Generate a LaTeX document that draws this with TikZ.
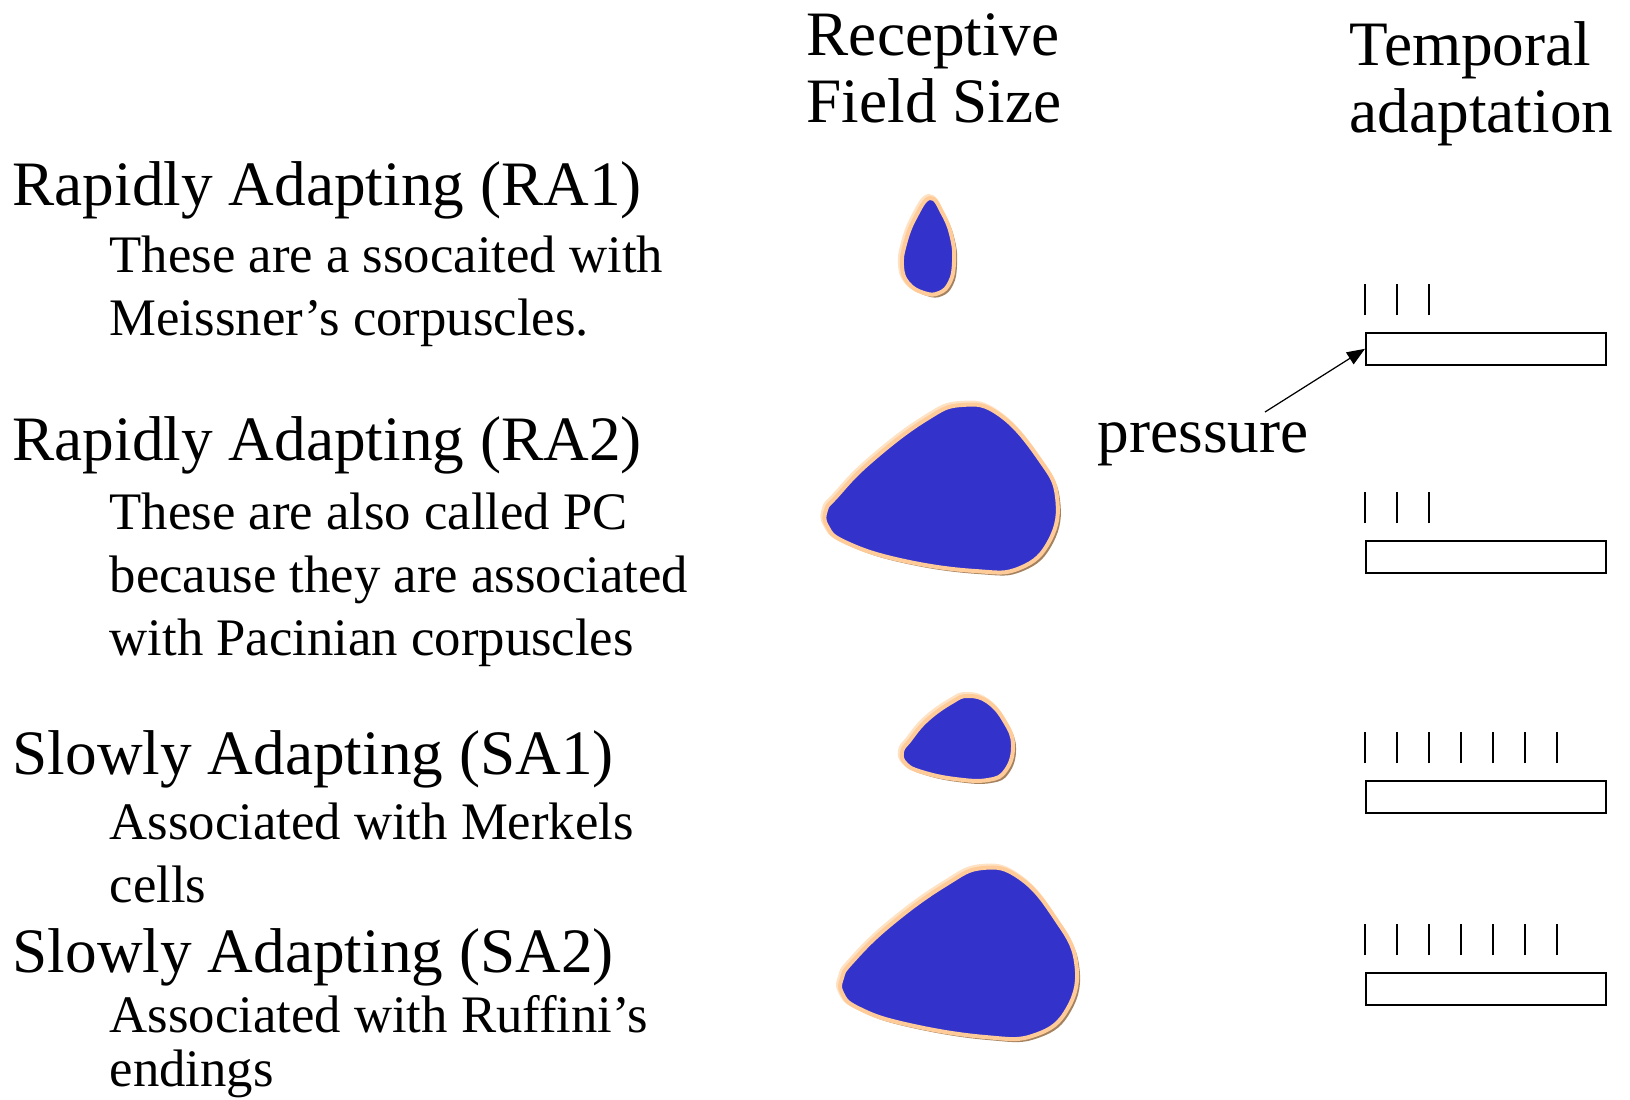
\documentclass[tikz,border=0pt]{standalone}
\usepackage{fontspec}
\setmainfont{Liberation Serif}
\usepackage{tikz}
\usetikzlibrary{arrows.meta,positioning,calc}
\definecolor{fieldblue}{RGB}{51,51,204}
\definecolor{fieldrim}{RGB}{255,204,153}
\definecolor{fieldglow}{RGB}{255,226,196}
\definecolor{fieldshade}{RGB}{165,130,95}
% receptive field blob: shadow, glow, body
\newcommand{\fieldblob}[1]{%
  \fill[fieldshade, shift={(3,3)}] plot[smooth cycle, tension=0.75] coordinates {#1};
  \draw[fieldglow, line width=0.5mm, shift={(-1.5,-1.5)}] plot[smooth cycle, tension=0.75] coordinates {#1};
  \draw[blob] plot[smooth cycle, tension=0.75] coordinates {#1};
}

\begin{document}
\begin{tikzpicture}[
      x=0.1mm, y=-0.1mm,
      head/.style={anchor=base west, inner sep=0pt, align=left, font=\fontsize{18}{19.3}\selectfont},
      desc/.style={anchor=base west, inner sep=0pt, align=left, font=\fontsize{15}{17.9}\selectfont},
      blob/.style={fill=fieldblue, draw=fieldrim, line width=0.4mm},
      trainbox/.style={draw, line width=0.45pt, anchor=north west, minimum width=24mm, minimum height=3.2mm, inner sep=0pt},
      spike/.style={draw, line width=0.45pt},
      arr/.style={-{Triangle[length=1.8mm,width=1.4mm]}, line width=0.35pt}
    ]
      \useasboundingbox (0,0) rectangle (1630,1099);

      % column titles (multi-line nodes sit on their last line)
      \node[head] (rfsize) at (806,123) {Receptive\\Field Size};
      \node[head] (tempad) at (1349,133) {Temporal\\adaptation};

      % receptor classes
      \node[head] (ra1) at (12,205) {Rapidly Adapting (RA1)};
      \node[desc] (ra1txt) at (109,335) {These are a ssocaited with\\Meissner’s corpuscles.};
      \node[head] (ra2) at (12,460) {Rapidly Adapting (RA2)};
      \node[desc] (ra2txt) at (109,655) {These are also called PC\\because they are associated\\with Pacinian corpuscles};
      \node[head] (sa1) at (12,774) {Slowly Adapting (SA1)};
      \node[desc] (sa1txt) at (109,902) {Associated with Merkels\\cells};
      \node[head] (sa2) at (12,972) {Slowly Adapting (SA2)};
      \node[desc] (sa2txt) at (109,1086) {Associated with Ruffini’s\\[-0.9mm]endings};

      % receptive fields
      \fieldblob{(930,198) (943,214) (952,238) (954,262) (950,282) (939,293) (924,293) (908,283) (902,266) (905,244) (915,218)}
      \fieldblob{(836,497) (870,462) (925,420) (962,405) (1000,415) (1040,460) (1057,497) (1050,540) (1020,568) (975,571) (900,560) (845,542) (827,526) (826,510)}
      \fieldblob{(910,740) (927,720) (952,702) (968,696) (988,702) (1005,722) (1013,745) (1006,770) (988,780) (955,779) (922,772) (906,764) (902,752)}
      \fieldblob{(852,962) (890,925) (945,885) (983,868) (1020,878) (1055,918) (1076,962) (1068,1008) (1035,1035) (985,1037) (905,1024) (858,1008) (842,993) (842,978)}

      % spike trains over the stimulus
      \foreach \nm/\top/\n in {ra1/332/3, ra2/540/3, sa1/780/7, sa2/972/7} {
        \node[trainbox] (\nm-box) at (1365,\top) {};
        \foreach \i in {1,...,\n}
          \draw[spike] ([shift={(32*\i-32,-17)}]\nm-box.north west) -- ++(0,-31);
      }

      \node[head] (pressure) at (1097,452) {pressure};
      \coordinate (ptail) at (1265,412);
      \draw[arr] (ptail) -- (ra1-box.west);
    \end{tikzpicture}
\end{document}
